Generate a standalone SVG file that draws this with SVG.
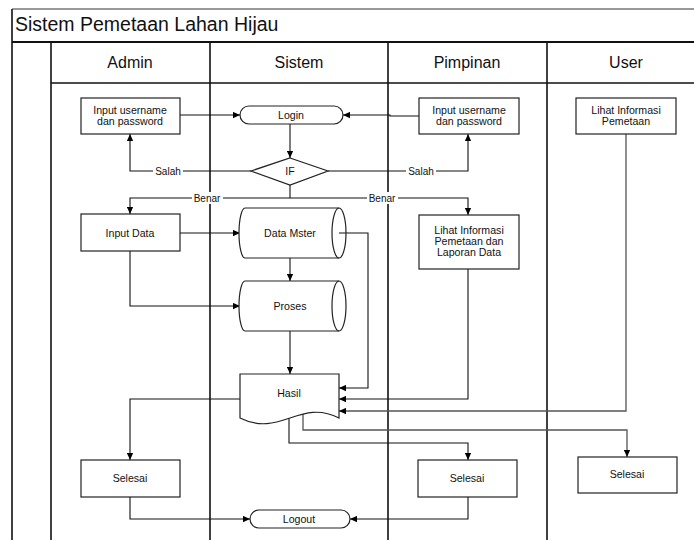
<svg xmlns="http://www.w3.org/2000/svg" width="694" height="540" viewBox="0 0 694 540">
<style>
text{font-family:"Liberation Sans",Arial,sans-serif;fill:#111}
.t{font-size:10.6px;text-anchor:middle}
.h{font-size:16px;text-anchor:middle}
.lbl{font-size:10px;text-anchor:middle}
.box{fill:#fff;stroke:#222;stroke-width:1.2}
.ln{fill:none;stroke:#111;stroke-width:1.1}
.g{fill:none;stroke:#555;stroke-width:1.3}
.lane{stroke:#111;stroke-width:1.6}
</style>
<defs>
<marker id="a" viewBox="0 0 10 10" refX="10" refY="5" markerWidth="7" markerHeight="7" markerUnits="userSpaceOnUse" orient="auto">
<path d="M0,0.5 L10,5 L0,9.5 z" fill="#000"/>
</marker>
</defs>
<rect x="0" y="0" width="694" height="540" fill="#fff"/>
<g id="frame">
<line x1="12" y1="9" x2="694" y2="9" stroke="#333" stroke-width="1"/>
<line x1="12" y1="9" x2="12" y2="540" class="lane"/>
<line x1="12" y1="42" x2="694" y2="42" stroke="#111" stroke-width="2"/>
<line x1="51" y1="83" x2="694" y2="83" class="lane"/>
<line x1="51" y1="42" x2="51" y2="540" class="lane"/>
<line x1="210" y1="42" x2="210" y2="540" class="lane"/>
<line x1="388" y1="42" x2="388" y2="540" class="lane"/>
<line x1="547" y1="42" x2="547" y2="540" class="lane"/>
<text x="15" y="31" style="font-size:19.5px">Sistem Pemetaan Lahan Hijau</text>
<text x="130" y="68" class="h">Admin</text>
<text x="299" y="68" class="h">Sistem</text>
<text x="467" y="68" class="h">Pimpinan</text>
<text x="626" y="68" class="h">User</text>
</g>
<g id="connectors">
<line x1="180" y1="115" x2="240" y2="115" class="ln" marker-end="url(#a)"/>
<polyline points="419,116 390,116 390,115 343,115" class="ln" marker-end="url(#a)"/>
<line x1="290" y1="124" x2="290" y2="158" class="ln" marker-end="url(#a)"/>
<polyline points="251,171 130,171 130,134" class="ln" marker-end="url(#a)"/>
<polyline points="328,171 468,171 468,134" class="ln" marker-end="url(#a)"/>
<line x1="290" y1="185" x2="290" y2="198" class="ln"/>
<polyline points="290,198 130,198 130,214" class="ln" marker-end="url(#a)"/>
<polyline points="290,198 468,198 468,215" class="ln" marker-end="url(#a)"/>
<line x1="180" y1="233" x2="240" y2="233" class="ln" marker-end="url(#a)"/>
<polyline points="130,251 130,306 240,306" class="ln" marker-end="url(#a)"/>
<line x1="290" y1="258" x2="290" y2="281" class="ln" marker-end="url(#a)"/>
<line x1="290" y1="331" x2="290" y2="374" class="ln" marker-end="url(#a)"/>
<polyline points="339,233 368,233 368,388 339,388" class="ln" marker-end="url(#a)"/>
<polyline points="468,269 468,399 339,399" class="ln" marker-end="url(#a)"/>
<polyline points="626,134 626,411 339,411" class="g" marker-end="url(#a)"/>
<polyline points="240,399 130,399 130,460" class="ln" marker-end="url(#a)"/>
<polyline points="303,413 303,430 627,430 627,457" class="g" marker-end="url(#a)"/>
<polyline points="289,418 289,443 468,443 468,460" class="ln" marker-end="url(#a)"/>
<polyline points="130,497 130,519 250,519" class="ln" marker-end="url(#a)"/>
<polyline points="468,497 468,519 350,519" class="ln" marker-end="url(#a)"/>
<rect x="153" y="165" width="30" height="12" fill="#fff"/>
<text x="168" y="174.5" class="lbl">Salah</text>
<rect x="406" y="165" width="30" height="12" fill="#fff"/>
<text x="421" y="174.5" class="lbl">Salah</text>
<rect x="192" y="192" width="31" height="12" fill="#fff"/>
<text x="207" y="201.5" class="lbl">Benar</text>
<rect x="367" y="192" width="31" height="12" fill="#fff"/>
<text x="382" y="201.5" class="lbl">Benar</text>
</g>
<g id="admin-input">
<rect x="81" y="98" width="99" height="36" class="box"/>
<text x="130" y="114" class="t">Input username</text>
<text x="130" y="125" class="t">dan password</text>
</g>
<g id="login">
<rect x="240" y="106" width="103" height="18" rx="9" class="box"/>
<text x="291" y="118.5" class="t">Login</text>
</g>
<g id="pimpinan-input">
<rect x="419" y="98" width="100" height="36" class="box"/>
<text x="469" y="114" class="t">Input username</text>
<text x="469" y="125" class="t">dan password</text>
</g>
<g id="user-lihat">
<rect x="576" y="98" width="100" height="36" class="box"/>
<text x="626" y="114" class="t">Lihat Informasi</text>
<text x="626" y="125" class="t">Pemetaan</text>
</g>
<g id="if">
<polygon points="290,158 328,171 290,185 251,171" class="box"/>
<text x="290" y="175" class="t">IF</text>
</g>
<g id="input-data">
<rect x="81" y="214" width="99" height="37" class="box"/>
<text x="130" y="236.5" class="t">Input Data</text>
</g>
<g id="data-mster">
<path d="M245,208 H339 M339,258 H245 A6,25 0 0 1 245,208" class="box"/>
<ellipse cx="339" cy="233" rx="7" ry="25" class="box" style="fill:none"/>
<text x="290" y="236.5" class="t">Data Mster</text>
</g>
<g id="proses">
<path d="M245,281 H339 M339,331 H245 A6,25 0 0 1 245,281" class="box"/>
<ellipse cx="339" cy="306" rx="7" ry="25" class="box" style="fill:none"/>
<text x="290" y="309.5" class="t">Proses</text>
</g>
<g id="pimpinan-lihat">
<rect x="419" y="215" width="100" height="54" class="box"/>
<text x="469" y="234" class="t">Lihat Informasi</text>
<text x="469" y="245" class="t">Pemetaan dan</text>
<text x="469" y="256" class="t">Laporan Data</text>
</g>
<g id="hasil">
<path d="M240,374 H339 V418 C300,398 280,438 240,418 Z" class="box"/>
<text x="289" y="396.5" class="t">Hasil</text>
</g>
<g id="admin-selesai">
<rect x="81" y="460" width="99" height="37" class="box"/>
<text x="130" y="482" class="t">Selesai</text>
</g>
<g id="pimpinan-selesai">
<rect x="418" y="460" width="99" height="37" class="box"/>
<text x="467" y="482" class="t">Selesai</text>
</g>
<g id="user-selesai">
<rect x="578" y="457" width="99" height="36" class="box"/>
<text x="627" y="478" class="t">Selesai</text>
</g>
<g id="logout">
<rect x="250" y="510" width="100" height="18" rx="9" class="box"/>
<text x="299" y="522.5" class="t">Logout</text>
</g>
</svg>
